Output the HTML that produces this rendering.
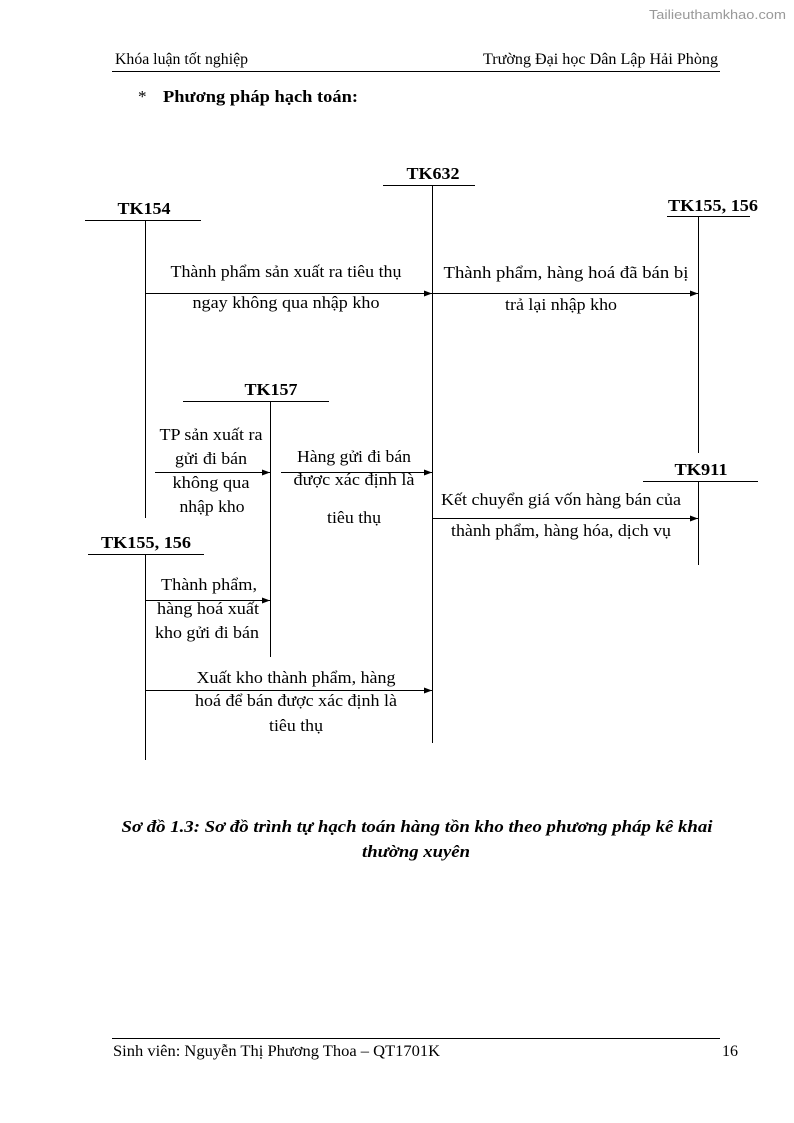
<!DOCTYPE html>
<html><head><meta charset="utf-8"><style>
html,body{margin:0;padding:0;background:#fff}
svg{display:block}
text{font-family:"Liberation Serif",serif;fill:#000}
</style></head><body>
<svg width="794" height="1123" viewBox="0 0 794 1123" xmlns="http://www.w3.org/2000/svg">
<defs><marker id="a" markerWidth="8" markerHeight="8" refX="8" refY="4" orient="auto" markerUnits="userSpaceOnUse"><path d="M0,1 L8,4 L0,7 Z" fill="#000"/></marker></defs>
<text x="786" y="19" text-anchor="end" style="font-family:'Liberation Sans',sans-serif;fill:#999" font-size="13" textLength="137" lengthAdjust="spacingAndGlyphs">Tailieuthamkhao.com</text>
<text x="115" y="64" font-size="16" textLength="133" lengthAdjust="spacingAndGlyphs">Khóa luận tốt nghiệp</text>
<text x="718" y="64" font-size="16" text-anchor="end" textLength="235" lengthAdjust="spacingAndGlyphs">Trường Đại học Dân Lập Hải Phòng</text>
<line x1="112" y1="71.5" x2="720" y2="71.5" stroke="#000" stroke-width="1"/>
<text x="138" y="102" font-size="17">*</text>
<text x="163" y="102" font-size="17" font-weight="bold" textLength="195" lengthAdjust="spacingAndGlyphs">Phương pháp hạch toán:</text>

<g stroke="#000" stroke-width="1" fill="none">
<line x1="383" y1="185.5" x2="475" y2="185.5"/><line x1="432.5" y1="185" x2="432.5" y2="743"/>
<line x1="85" y1="220.5" x2="201" y2="220.5"/><line x1="145.5" y1="220" x2="145.5" y2="518"/>
<line x1="667" y1="216.5" x2="750" y2="216.5"/><line x1="698.5" y1="216" x2="698.5" y2="453"/>
<line x1="183" y1="401.5" x2="329" y2="401.5"/><line x1="270.5" y1="401" x2="270.5" y2="657"/>
<line x1="643" y1="481.5" x2="758" y2="481.5"/><line x1="698.5" y1="481" x2="698.5" y2="565"/>
<line x1="88" y1="554.5" x2="204" y2="554.5"/><line x1="145.5" y1="554" x2="145.5" y2="760"/>
<line x1="145" y1="293.5" x2="432" y2="293.5" marker-end="url(#a)"/>
<line x1="432" y1="293.5" x2="698" y2="293.5" marker-end="url(#a)"/>
<line x1="155" y1="472.5" x2="270" y2="472.5" marker-end="url(#a)"/>
<line x1="281" y1="472.5" x2="432" y2="472.5" marker-end="url(#a)"/>
<line x1="432" y1="518.5" x2="698" y2="518.5" marker-end="url(#a)"/>
<line x1="145" y1="600.5" x2="270" y2="600.5" marker-end="url(#a)"/>
<line x1="145" y1="690.5" x2="432" y2="690.5" marker-end="url(#a)"/>
</g>

<g font-size="17" font-weight="bold" text-anchor="middle" lengthAdjust="spacingAndGlyphs">
<text x="433" y="179" textLength="53" lengthAdjust="spacingAndGlyphs">TK632</text>
<text x="144" y="214" textLength="53" lengthAdjust="spacingAndGlyphs">TK154</text>
<text x="713" y="211" textLength="90" lengthAdjust="spacingAndGlyphs">TK155, 156</text>
<text x="271" y="395" textLength="53" lengthAdjust="spacingAndGlyphs">TK157</text>
<text x="701" y="475" textLength="53" lengthAdjust="spacingAndGlyphs">TK911</text>
<text x="146" y="548" textLength="90" lengthAdjust="spacingAndGlyphs">TK155, 156</text>
</g>

<g font-size="17" text-anchor="middle">
<text x="286" y="277" textLength="231" lengthAdjust="spacingAndGlyphs">Thành phẩm sản xuất ra tiêu thụ</text>
<text x="286" y="308" textLength="187" lengthAdjust="spacingAndGlyphs">ngay không qua nhập kho</text>
<text x="566" y="278" textLength="245" lengthAdjust="spacingAndGlyphs">Thành phẩm, hàng hoá đã bán bị</text>
<text x="561" y="310" textLength="112" lengthAdjust="spacingAndGlyphs">trả lại nhập kho</text>
<text x="211" y="440" textLength="103" lengthAdjust="spacingAndGlyphs">TP sản xuất ra</text>
<text x="211" y="464" textLength="72" lengthAdjust="spacingAndGlyphs">gửi đi bán</text>
<text x="211" y="488" textLength="77" lengthAdjust="spacingAndGlyphs">không qua</text>
<text x="212" y="512" textLength="65" lengthAdjust="spacingAndGlyphs">nhập kho</text>
<text x="354" y="462" textLength="114" lengthAdjust="spacingAndGlyphs">Hàng gửi đi bán</text>
<text x="354" y="485" textLength="121" lengthAdjust="spacingAndGlyphs">được xác định là</text>
<text x="354" y="523" textLength="54" lengthAdjust="spacingAndGlyphs">tiêu thụ</text>
<text x="561" y="505" textLength="240" lengthAdjust="spacingAndGlyphs">Kết chuyển giá vốn hàng bán của</text>
<text x="561" y="536" textLength="220" lengthAdjust="spacingAndGlyphs">thành phẩm, hàng hóa, dịch vụ</text>
<text x="209" y="590" textLength="96" lengthAdjust="spacingAndGlyphs">Thành phẩm,</text>
<text x="208" y="614" textLength="102" lengthAdjust="spacingAndGlyphs">hàng hoá xuất</text>
<text x="207" y="638" textLength="104" lengthAdjust="spacingAndGlyphs">kho gửi đi bán</text>
<text x="296" y="683" textLength="199" lengthAdjust="spacingAndGlyphs">Xuất kho thành phẩm, hàng</text>
<text x="296" y="706" textLength="202" lengthAdjust="spacingAndGlyphs">hoá để bán được xác định là</text>
<text x="296" y="731" textLength="54" lengthAdjust="spacingAndGlyphs">tiêu thụ</text>
</g>

<g font-size="17" font-weight="bold" font-style="italic" text-anchor="middle">
<text x="417" y="832" textLength="591" lengthAdjust="spacingAndGlyphs">Sơ đồ 1.3: Sơ đồ trình tự hạch toán hàng tồn kho theo phương pháp kê khai</text>
<text x="416" y="857" textLength="108" lengthAdjust="spacingAndGlyphs">thường xuyên</text>
</g>

<line x1="112" y1="1038.5" x2="720" y2="1038.5" stroke="#000" stroke-width="1"/>
<text x="113" y="1056" font-size="16" textLength="327" lengthAdjust="spacingAndGlyphs">Sinh viên: Nguyễn Thị Phương Thoa – QT1701K</text>
<text x="738" y="1056" font-size="16" text-anchor="end">16</text>
</svg>
</body></html>
